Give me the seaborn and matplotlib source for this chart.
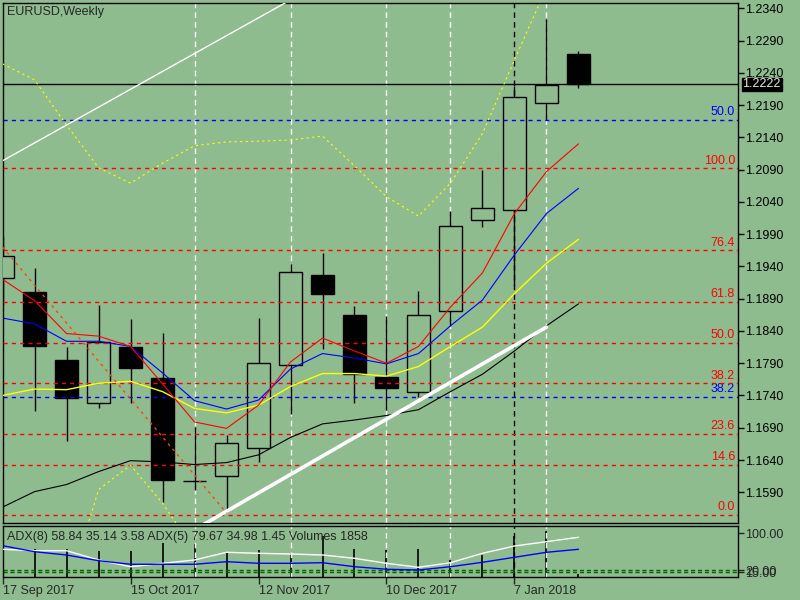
import numpy as np
import pandas as pd
import matplotlib
matplotlib.use('Agg')
import matplotlib.pyplot as plt
import matplotlib.transforms as mtransforms
import seaborn as sns

# Weekly EURUSD candles, 17 Sep 2017 .. 21 Jan 2018 (bar index 0..18)
bars = list(range(19))
opens = [1.1922, 1.1901, 1.1795, 1.1729, 1.1815, 1.1767, 1.1608, 1.1616, 1.1658, 1.1788,
         1.1927, 1.1865, 1.1769, 1.1745, 1.1871, 1.2012, 1.2027, 1.2194, 1.2269]
highs = [1.1985, 1.1938, 1.1815, 1.1880, 1.1859, 1.1837, 1.1691, 1.1679, 1.1860, 1.1944,
         1.1961, 1.1879, 1.1863, 1.1902, 1.2026, 1.2089, 1.2220, 1.2323, 1.2274]
lows = [1.1880, 1.1716, 1.1670, 1.1720, 1.1729, 1.1575, 1.1594, 1.1560, 1.1637, 1.1712,
        1.1812, 1.1729, 1.1718, 1.1737, 1.1847, 1.2001, 1.1909, 1.2167, 1.2217]
closes = [1.1956, 1.1817, 1.1736, 1.1823, 1.1783, 1.1609, 1.1607, 1.1666, 1.1791, 1.1932,
          1.1898, 1.1774, 1.1751, 1.1864, 1.2002, 1.2030, 1.2202, 1.2221, 1.2222]
last_price = 1.2222

# moving averages
ma_red = [1.1920, 1.1887, 1.1836, 1.1832, 1.1816, 1.1758, 1.1699, 1.1689, 1.1725, 1.1792,
          1.1829, 1.1809, 1.1790, 1.1816, 1.1877, 1.1930, 1.2022, 1.2087, 1.2130]
ma_blue = [1.1860, 1.1851, 1.1824, 1.1824, 1.1816, 1.1775, 1.1732, 1.1719, 1.1733, 1.1781,
           1.1805, 1.1798, 1.1789, 1.1805, 1.1848, 1.1888, 1.1958, 1.2022, 1.2061]
ma_yellow = [1.1740, 1.1750, 1.1749, 1.1759, 1.1762, 1.1746, 1.1720, 1.1713, 1.1725, 1.1754,
             1.1774, 1.1774, 1.1770, 1.1785, 1.1816, 1.1846, 1.1898, 1.1945, 1.1982]
ma_black = [1.1567, 1.1591, 1.1602, 1.1622, 1.1639, 1.1637, 1.1633, 1.1636, 1.1648, 1.1675,
            1.1696, 1.1702, 1.1709, 1.1718, 1.1746, 1.1773, 1.1809, 1.1848, 1.1882]
band_up_bars = list(range(18))
band_up = [1.2254, 1.2229, 1.2159, 1.2093, 1.2069, 1.2100, 1.2127, 1.2133, 1.2134, 1.2136,
           1.2142, 1.2096, 1.2048, 1.2018, 1.2069, 1.2146, 1.2260, 1.2372]
band_low_bars = [2, 3, 4, 5, 6]
band_low = [1.1430, 1.1594, 1.1632, 1.1573, 1.1500]

# fibonacci levels
fib_red_labels = ['100.0', '76.4', '61.8', '50.0', '38.2', '23.6', '14.6', '0.0']
fib_red = [1.2092, 1.1965, 1.1885, 1.1822, 1.1759, 1.1681, 1.1633, 1.1555]
fib_blue_labels = ['50.0', '38.2']
fib_blue = [1.2167, 1.1738]

# trend lines (bar, price)
trend_top_bars = [-1, 9]
trend_top = [1.2076, 1.2353]
trend_low_bars = [6, 17]
trend_low = [1.1532, 1.1846]
trend_orange_bars = [0, 7]
trend_orange = [1.1970, 1.1558]

# separators
sep_white = [6, 9, 12, 14, 17]
sep_black = 16

# lower panel: ADX lines and volumes
adx_white = [65.1, 62.1, 62.1, 41.8, 27.2, 34.6, 41.8, 58.6, 56.4, 54.9,
             52.7, 45.5, 34.6, 25.9, 35.9, 56.4, 72.3, 81.7, 91.3]
adx_blue = [73.0, 59.9, 52.7, 40.3, 32.5, 32.5, 32.5, 38.1, 34.6, 34.6,
            35.9, 27.2, 21.6, 20.0, 27.2, 36.8, 47.7, 58.6, 65.1]
volumes = [30000, 21200, 21200, 19900, 19900, 25850, 25300, 18900, 20650, 18100,
           31500, 21450, 20650, 21200, 12900, 16800, 31500, 35370, 1858]
adx_levels = [20, 15]
adx_ticks = [15, 20, 100]
adx_text = 'ADX(8) 58.84 35.14 3.58 ADX(5) 79.67 34.98 1.45 Volumes 1858'

date_bars = [0, 4, 8, 12, 16]
date_labels = ['17 Sep 2017', '15 Oct 2017', '12 Nov 2017', '10 Dec 2017', '7 Jan 2018']
price_ticks = [1.1590, 1.1640, 1.1690, 1.1740, 1.1790, 1.1840, 1.1890, 1.1940,
               1.1990, 1.2040, 1.2090, 1.2140, 1.2190, 1.2240, 1.2290, 1.2340]

bg = '#8fbc8f'
sns.set_style('ticks')
plt.rcParams['font.family'] = ['Liberation Sans', 'DejaVu Sans']
plt.rcParams['font.size'] = 9

fig = plt.figure(figsize=(8, 6), dpi=100, facecolor=bg)
ax = fig.add_axes([2.5 / 800, 77 / 600, 735 / 800, 520.5 / 600])
ax2 = fig.add_axes([2.5 / 800, 23.3 / 600, 735 / 800, 50.7 / 600])

for a in (ax, ax2):
    a.set_facecolor(bg)
    a.set_xlim(-0.001, 22.97)
    for s in a.spines.values():
        s.set_color('black')
        s.set_linewidth(1)
    for b in sep_white:
        a.axvline(b, color='white', lw=1, ls=(0, (4, 3)), zorder=1)
    a.axvline(sep_black, color='black', lw=1, ls=(0, (4, 3)), zorder=1)

ax.set_ylim(1.15424, 1.2349)

# candles
for i in bars:
    o, h, l, c = opens[i], highs[i], lows[i], closes[i]
    ax.vlines(i, l, h, color='black', lw=1, zorder=2)
    face = bg if c > o else 'black'
    ax.bar(i, max(abs(c - o), 0.00002), bottom=min(o, c), width=0.7,
           facecolor=face, edgecolor='black', linewidth=1, zorder=3)

ax.axhline(last_price, color='black', lw=1, zorder=4)

# fib levels
lab_tr = mtransforms.blended_transform_factory(ax.transAxes, ax.transData)
lab_off = mtransforms.offset_copy(lab_tr, fig=fig, x=0, y=1.5, units='dots')
for lab, p in zip(fib_red_labels, fib_red):
    ax.axhline(p, color='red', lw=1, ls=(0, (3, 3)), zorder=4)
    ax.text(0.9966, p, lab, color='red', ha='right', va='bottom', transform=lab_off)
for lab, p in zip(fib_blue_labels, fib_blue):
    ax.axhline(p, color='blue', lw=1, ls=(0, (3, 3)), zorder=4)
    ax.text(0.9966, p, lab, color='blue', ha='right', va='bottom', transform=lab_off)

# moving averages and bands
sns.lineplot(x=bars, y=ma_black, ax=ax, color='black', linewidth=0.8, zorder=5)
sns.lineplot(x=bars, y=ma_yellow, ax=ax, color='yellow', linewidth=1, zorder=5)
sns.lineplot(x=bars, y=ma_blue, ax=ax, color='blue', linewidth=0.8, zorder=5)
sns.lineplot(x=bars, y=ma_red, ax=ax, color='red', linewidth=0.8, zorder=5)
sns.lineplot(x=band_up_bars, y=band_up, ax=ax, color='yellow', linewidth=0.8,
             linestyle=(0, (2, 3)), zorder=5)
sns.lineplot(x=band_low_bars, y=band_low, ax=ax, color='yellow', linewidth=0.8,
             linestyle=(0, (2, 3)), zorder=5)

# trend lines
ax.plot(trend_top_bars, trend_top, color='white', lw=1, zorder=5)
ax.plot(trend_low_bars, trend_low, color='white', lw=2.6, zorder=5)
ax.plot(trend_orange_bars, trend_orange, color='#ff4500', lw=1, ls=(0, (2, 3)), zorder=5)

ax.set_xlabel('')
ax.set_ylabel('')
ax.set_xticks([])
ax.yaxis.tick_right()
ax.set_yticks(price_ticks)
ax.set_yticklabels([f'{t:.4f}' for t in price_ticks])
ax.tick_params(axis='y', direction='out', length=4, width=1, pad=1.5, colors='black')

ax.text(0.006, 0.982, 'EURUSD,Weekly', transform=ax.transAxes, ha='left', va='center')
box_tr = mtransforms.offset_copy(lab_tr, fig=fig, x=5, y=0, units='dots')
ax.text(1.0, last_price, f'{last_price:.4f}', transform=box_tr, ha='left', va='center',
        color='#e8e8d0', bbox=dict(facecolor='black', edgecolor='black', pad=0.6), zorder=10)

# lower panel
ax2.set_ylim(5.4, 115.9)
axv = ax2.twinx()
axv.set_ylim(0, 39240)
axv.vlines(bars, 0, volumes, color='black', lw=1.2)
axv.set_yticks([])
axv.set_xlim(-0.001, 22.97)
for s in axv.spines.values():
    s.set_visible(False)

for lv in adx_levels:
    ax2.axhline(lv, color='#006400', lw=1, ls=(0, (3, 2)), zorder=2)
sns.lineplot(x=bars, y=adx_white, ax=ax2, color='white', linewidth=1, zorder=6)
sns.lineplot(x=bars, y=adx_blue, ax=ax2, color='blue', linewidth=1, zorder=6)
ax2.set_zorder(axv.get_zorder() + 1)
ax2.patch.set_visible(False)
axv.set_facecolor(bg)

ax2.set_xlabel('')
ax2.set_ylabel('')
ax2.yaxis.tick_right()
ax2.set_yticks(adx_ticks)
ax2.set_yticklabels([f'{t:.2f}' for t in adx_ticks])
ax2.tick_params(axis='y', direction='out', length=4, width=1, pad=1.5)
ax2.set_xticks(date_bars)
ax2.set_xticklabels(date_labels)
for t in ax2.get_xticklabels():
    t.set_horizontalalignment('left')
ax2.tick_params(axis='x', direction='out', length=5, width=1, pad=1)
ax2.text(0.006, 0.79, adx_text, transform=ax2.transAxes, ha='left', va='center')

fig.savefig('out.png', dpi=100, facecolor=bg)
